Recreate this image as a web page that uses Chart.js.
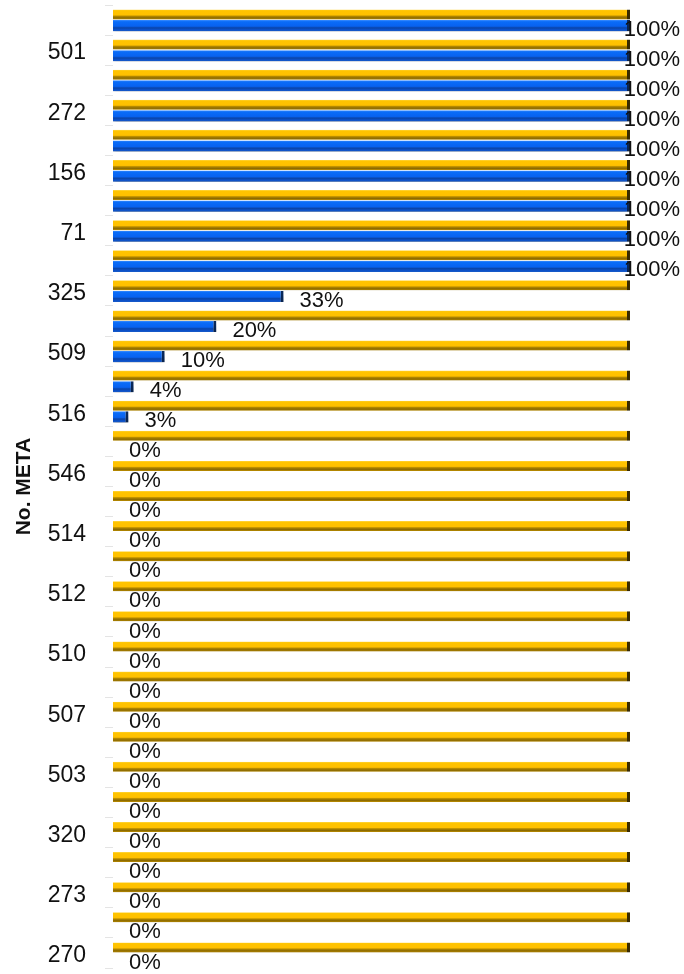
<!DOCTYPE html>
<html>
<head>
<meta charset="utf-8">
<script src="https://cdn.jsdelivr.net/npm/chart.js@4"></script>
<style>
  html, body { margin: 0; padding: 0; background: #ffffff; }
  #wrap { width: 684px; height: 974px; position: relative; }
</style>
</head>
<body>
<div id="wrap"><canvas id="c" width="684" height="974"></canvas></div>
<script>
// Categories top to bottom (only every other label is legible in the source)
const categories = [
  "", "501", "", "272", "", "156", "", "71",
  "", "325", "", "509", "", "516", "", "546",
  "", "514", "", "512", "", "510", "", "507",
  "", "503", "", "320", "", "273", "", "270"
];
// Target (background) series, percent
const targetValues = [
  100, 100, 100, 100, 100, 100, 100, 100,
  100, 100, 100, 100, 100, 100, 100, 100,
  100, 100, 100, 100, 100, 100, 100, 100,
  100, 100, 100, 100, 100, 100, 100, 100
];
// Achieved series, percent
const achievedValues = [
  100, 100, 100, 100, 100, 100, 100, 100,
  100, 33, 20, 10, 4, 3, 0, 0,
  0, 0, 0, 0, 0, 0, 0, 0,
  0, 0, 0, 0, 0, 0, 0, 0
];
const axisTitle = "No. META";

const yellowStops = [[0, "#FFD84A"], [0.12, "#FFC400"], [0.55, "#FFC000"], [0.68, "#B08600"], [0.85, "#8C6A00"], [1, "#C09000"]];
const blueStops = [[0, "#3A8CFF"], [0.15, "#0A6CF8"], [0.55, "#0862F0"], [0.7, "#0A44A8"], [0.85, "#0B50C8"], [1, "#1A5CC8"]];

const shadeBars = {
  id: "shadeBars",
  beforeDatasetsDraw(chart) {
    const ctx = chart.ctx;
    chart.data.datasets.forEach((ds, di) => {
      const meta = chart.getDatasetMeta(di);
      const stops = di === 0 ? yellowStops : blueStops;
      meta.data.forEach(el => {
        const h = el.height;
        const g = ctx.createLinearGradient(0, el.y - h / 2, 0, el.y + h / 2);
        stops.forEach(s => g.addColorStop(s[0], s[1]));
        el.options = Object.assign({}, el.options, { backgroundColor: g });
      });
    });
  },
  beforeDatasetDraw(chart, args) {
    const ctx = chart.ctx;
    ctx.save();
    ctx.shadowColor = args.index === 1 ? "rgba(0,0,0,0.45)" : "rgba(0,0,0,0.15)";
    ctx.shadowBlur = args.index === 1 ? 5 : 3;
    ctx.shadowOffsetY = args.index === 1 ? 5 : 3;
  },
  afterDatasetDraw(chart) {
    chart.ctx.restore();
  }
};

const valueLabels = {
  id: "valueLabels",
  afterDatasetsDraw(chart) {
    const ctx = chart.ctx;
    const meta = chart.getDatasetMeta(1);
    ctx.save();
    ctx.font = "22px 'Liberation Sans', Arial, sans-serif";
    ctx.fillStyle = "#111111";
    ctx.textAlign = "left";
    ctx.textBaseline = "middle";
    meta.data.forEach((el, i) => {
      const txt = Math.round(achievedValues[i]) + "%";
      const w = ctx.measureText(txt).width;
      const x = Math.min(el.x + 16, chart.width - 4 - w);
      ctx.fillText(txt, x, el.y + 4);
    });
    ctx.restore();
  }
};

new Chart(document.getElementById("c"), {
  type: "bar",
  data: {
    labels: categories,
    datasets: [
      {
        label: "Meta",
        data: targetValues,
        backgroundColor: "#FFC000",
        borderColor: "#3a2c00",
        borderWidth: { top: 0, right: 3, bottom: 0, left: 0 },
        borderSkipped: false,
        categoryPercentage: 0.74,
        barPercentage: 0.9
      },
      {
        label: "Avance",
        data: achievedValues,
        backgroundColor: "#0A64E6",
        borderColor: "#0a2a5c",
        borderWidth: { top: 0, right: 3, bottom: 0, left: 0 },
        borderSkipped: false,
        categoryPercentage: 0.74,
        barPercentage: 1.0
      }
    ]
  },
  options: {
    indexAxis: "y",
    responsive: false,
    animation: false,
    events: [],
    layout: { padding: { left: 0, right: 54, top: 5, bottom: 6 } },
    plugins: {
      legend: { display: false },
      tooltip: { enabled: false }
    },
    scales: {
      x: {
        display: false,
        min: 0,
        max: 100
      },
      y: {
        afterFit(scale) {
          scale.width = 113;
          scale.paddingTop = 0;
          scale.paddingBottom = 0;
        },
        border: { display: false },
        grid: {
          offset: true,
          drawOnChartArea: false,
          drawTicks: true,
          tickLength: 8,
          color: "#e4e4e4"
        },
        ticks: {
          autoSkip: false,
          padding: 19,
          labelOffset: 3,
          color: "#111111",
          font: { family: "'Liberation Sans', Arial, sans-serif", size: 23 }
        },
        title: {
          display: true,
          text: axisTitle,
          color: "#111111",
          padding: { top: 12, bottom: 0 },
          font: { family: "'Liberation Sans', Arial, sans-serif", size: 21, weight: "bold" }
        }
      }
    }
  },
  plugins: [shadeBars, valueLabels]
});
</script>
</body>
</html>
